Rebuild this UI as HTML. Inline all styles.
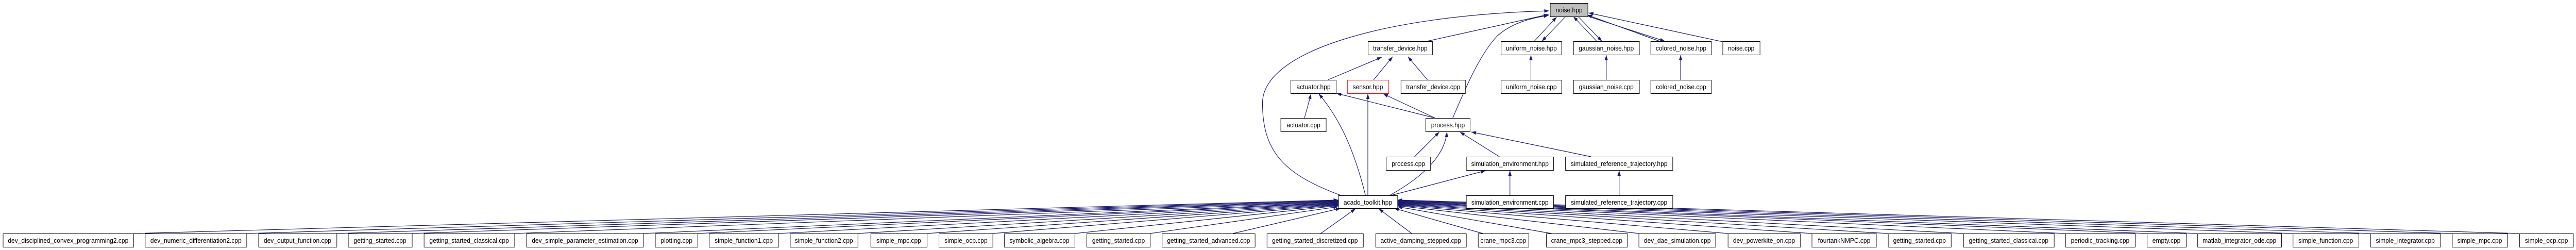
<!DOCTYPE html>
<html><head><meta charset="utf-8"><style>
html,body{margin:0;padding:0;background:#fff;overflow:hidden;width:100%;height:485px;}
svg{display:block;width:100%;height:485px;}
text{font-family:"Liberation Sans",Arial,sans-serif;font-size:13px;fill:#000;text-anchor:middle;}
.b{fill:#fff;stroke:#000;stroke-width:1;}
.e{fill:none;stroke:#191970;stroke-width:1.2;}
</style></head><body>
<svg viewBox="0 0 5403 485" preserveAspectRatio="none" xmlns="http://www.w3.org/2000/svg">
<defs>
<marker id="a" viewBox="0 0 10 7" refX="10" refY="3.5" markerWidth="10" markerHeight="7" markerUnits="userSpaceOnUse" orient="auto">
<path d="M0,0 L10,3.5 L0,7 z" fill="#191970"/>
</marker>
</defs>
<g class="e" marker-end="url(#a)">
<path d="M2812,379 C2700,340 2648,300 2648,200 C2648,100 2900,30 3249,21"/>
<path d="M2993,80 L3248,28"/>
<path d="M3047,229 C3070,180 3100,110 3140,70 C3170,45 3210,35 3248,30"/>
<path d="M3218,80 L3265,33"/>
<path d="M3284,32 L3234,80"/>
<path d="M3349,80 L3300,32"/>
<path d="M3310,32 L3360,80"/>
<path d="M3481,80 L3329,29"/>
<path d="M3332,32 L3492,80"/>
<path d="M3613,81 L3332,25"/>
<path d="M2785,155 L2898,111"/>
<path d="M2881,155 L2921,110"/>
<path d="M2994,155 L2953,110"/>
<path d="M3211,155 L3211,107"/>
<path d="M3369,155 L3369,107"/>
<path d="M3525,155 L3525,107"/>
<path d="M2736,229 L2750,182"/>
<path d="M2864,379 C2840,290 2810,230 2766,182"/>
<path d="M3010,229 L2803,181"/>
<path d="M3010,229 L2901,182"/>
<path d="M2869,379 L2869,182"/>
<path d="M2967,304 L3019,256"/>
<path d="M2915,379 C2990,340 3030,300 3035,256"/>
<path d="M3145,304 L3062,256"/>
<path d="M3337,304 L3086,256"/>
<path d="M2918,379 L3116,331"/>
<path d="M3167,379 L3167,331"/>
<path d="M3396,379 L3396,331"/>
<path d="M281,453 L2807,388"/>
<path d="M517,453 L2807,389"/>
<path d="M706,453 L2807,390"/>
<path d="M864,453 L2807,391"/>
<path d="M1079,453 L2807,392"/>
<path d="M1349,453 L2807,393"/>
<path d="M1463,453 L2807,394"/>
<path d="M1633,453 L2807,395"/>
<path d="M1799,453 L2807,396"/>
<path d="M1944,453 L2807,397"/>
<path d="M2082,453 L2807,398"/>
<path d="M2254,453 L2807,399"/>
<path d="M2412,453 L2807,401"/>
<path d="M2586,453 L2812,404"/>
<path d="M2770,453 L2843,405"/>
<path d="M2961,453 L2892,405"/>
<path d="M3110,453 L2924,404"/>
<path d="M3254,453 L2931,401"/>
<path d="M3438,453 L2931,399"/>
<path d="M3624,453 L2931,398"/>
<path d="M3800,453 L2931,397"/>
<path d="M3960,453 L2931,396"/>
<path d="M4118,453 L2931,395"/>
<path d="M4332,453 L2931,394"/>
<path d="M4503,453 L2931,393"/>
<path d="M4609,453 L2931,392"/>
<path d="M4809,453 L2931,391"/>
<path d="M4972,453 L2931,390"/>
<path d="M5143,453 L2931,389"/>
<path d="M5284,453 L2931,388"/>
</g>
<g>
<rect x="3251.5" y="6.5" width="79" height="26" fill="#bfbfbf" stroke="#000"/><text x="3291" y="24">noise.hpp</text>
<rect class="b" x="2869.5" y="80.5" width="135" height="26"/><text x="2937" y="98">transfer_device.hpp</text>
<rect class="b" x="3148.5" y="80.5" width="127" height="26"/><text x="3212" y="98">uniform_noise.hpp</text>
<rect class="b" x="3300.5" y="80.5" width="138" height="26"/><text x="3369" y="98">gaussian_noise.hpp</text>
<rect class="b" x="3462.5" y="80.5" width="127" height="26"/><text x="3526" y="98">colored_noise.hpp</text>
<rect class="b" x="3613.5" y="80.5" width="78" height="26"/><text x="3652" y="98">noise.cpp</text>
<rect class="b" x="2707.5" y="155.5" width="95" height="26"/><text x="2755" y="173">actuator.hpp</text>
<rect x="2826.5" y="155.5" width="86" height="26" fill="#fff" stroke="#f00"/><text x="2869" y="173">sensor.hpp</text>
<rect class="b" x="2938.5" y="155.5" width="135" height="26"/><text x="3006" y="173">transfer_device.cpp</text>
<rect class="b" x="3148.5" y="155.5" width="127" height="26"/><text x="3212" y="173">uniform_noise.cpp</text>
<rect class="b" x="3300.5" y="155.5" width="138" height="26"/><text x="3369" y="173">gaussian_noise.cpp</text>
<rect class="b" x="3462.5" y="155.5" width="127" height="26"/><text x="3526" y="173">colored_noise.cpp</text>
<rect class="b" x="2686.5" y="229.5" width="95" height="26"/><text x="2734" y="247">actuator.cpp</text>
<rect class="b" x="2990.5" y="229.5" width="93" height="26"/><text x="3037" y="247">process.hpp</text>
<rect class="b" x="2907.5" y="304.5" width="93" height="26"/><text x="2954" y="322">process.cpp</text>
<rect class="b" x="3075.5" y="304.5" width="183" height="26"/><text x="3167" y="322">simulation_environment.hpp</text>
<rect class="b" x="3283.5" y="304.5" width="225" height="26"/><text x="3396" y="322">simulated_reference_trajectory.hpp</text>
<rect class="b" x="2807.5" y="379.5" width="124" height="25"/><text x="2869" y="397">acado_toolkit.hpp</text>
<rect class="b" x="3075.5" y="379.5" width="183" height="25"/><text x="3167" y="397">simulation_environment.cpp</text>
<rect class="b" x="3283.5" y="379.5" width="225" height="25"/><text x="3396" y="397">simulated_reference_trajectory.cpp</text>
</g>
<g>
<rect class="b" x="6.5" y="453.5" width="274" height="26"/><text x="143" y="471">dev_disciplined_convex_programming2.cpp</text>
<rect class="b" x="304.5" y="453.5" width="213" height="26"/><text x="411" y="471">dev_numeric_differentiation2.cpp</text>
<rect class="b" x="542.5" y="453.5" width="164" height="26"/><text x="624" y="471">dev_output_function.cpp</text>
<rect class="b" x="730.5" y="453.5" width="134" height="26"/><text x="797" y="471">getting_started.cpp</text>
<rect class="b" x="889.5" y="453.5" width="190" height="26"/><text x="984" y="471">getting_started_classical.cpp</text>
<rect class="b" x="1104.5" y="453.5" width="245" height="26"/><text x="1227" y="471">dev_simple_parameter_estimation.cpp</text>
<rect class="b" x="1374.5" y="453.5" width="89" height="26"/><text x="1419" y="471">plotting.cpp</text>
<rect class="b" x="1487.5" y="453.5" width="146" height="26"/><text x="1560" y="471">simple_function1.cpp</text>
<rect class="b" x="1657.5" y="453.5" width="142" height="26"/><text x="1728" y="471">simple_function2.cpp</text>
<rect class="b" x="1826.5" y="453.5" width="118" height="26"/><text x="1885" y="471">simple_mpc.cpp</text>
<rect class="b" x="1969.5" y="453.5" width="113" height="26"/><text x="2026" y="471">simple_ocp.cpp</text>
<rect class="b" x="2106.5" y="453.5" width="148" height="26"/><text x="2180" y="471">symbolic_algebra.cpp</text>
<rect class="b" x="2279.5" y="453.5" width="133" height="26"/><text x="2346" y="471">getting_started.cpp</text>
<rect class="b" x="2437.5" y="453.5" width="195" height="26"/><text x="2535" y="471">getting_started_advanced.cpp</text>
<rect class="b" x="2657.5" y="453.5" width="202" height="26"/><text x="2758" y="471">getting_started_discretized.cpp</text>
<rect class="b" x="2885.5" y="453.5" width="190" height="26"/><text x="2980" y="471">active_damping_stepped.cpp</text>
<rect class="b" x="3100.5" y="453.5" width="106" height="26"/><text x="3153" y="471">crane_mpc3.cpp</text>
<rect class="b" x="3243.5" y="453.5" width="170" height="26"/><text x="3328" y="471">crane_mpc3_stepped.cpp</text>
<rect class="b" x="3437.5" y="453.5" width="161" height="26"/><text x="3518" y="471">dev_dae_simulation.cpp</text>
<rect class="b" x="3624.5" y="453.5" width="152" height="26"/><text x="3700" y="471">dev_powerkite_on.cpp</text>
<rect class="b" x="3800.5" y="453.5" width="135" height="26"/><text x="3868" y="471">fourtankNMPC.cpp</text>
<rect class="b" x="3960.5" y="453.5" width="132" height="26"/><text x="4026" y="471">getting_started.cpp</text>
<rect class="b" x="4118.5" y="453.5" width="190" height="26"/><text x="4213" y="471">getting_started_classical.cpp</text>
<rect class="b" x="4332.5" y="453.5" width="146" height="26"/><text x="4405" y="471">periodic_tracking.cpp</text>
<rect class="b" x="4503.5" y="453.5" width="82" height="26"/><text x="4544" y="471">empty.cpp</text>
<rect class="b" x="4609.5" y="453.5" width="176" height="26"/><text x="4697" y="471">matlab_integrator_ode.cpp</text>
<rect class="b" x="4809.5" y="453.5" width="138" height="26"/><text x="4878" y="471">simple_function.cpp</text>
<rect class="b" x="4972.5" y="453.5" width="146" height="26"/><text x="5045" y="471">simple_integrator.cpp</text>
<rect class="b" x="5143.5" y="453.5" width="116" height="26"/><text x="5201" y="471">simple_mpc.cpp</text>
<rect class="b" x="5284.5" y="453.5" width="113" height="26"/><text x="5341" y="471">simple_ocp.cpp</text>
</g>
</svg>
</body></html>
